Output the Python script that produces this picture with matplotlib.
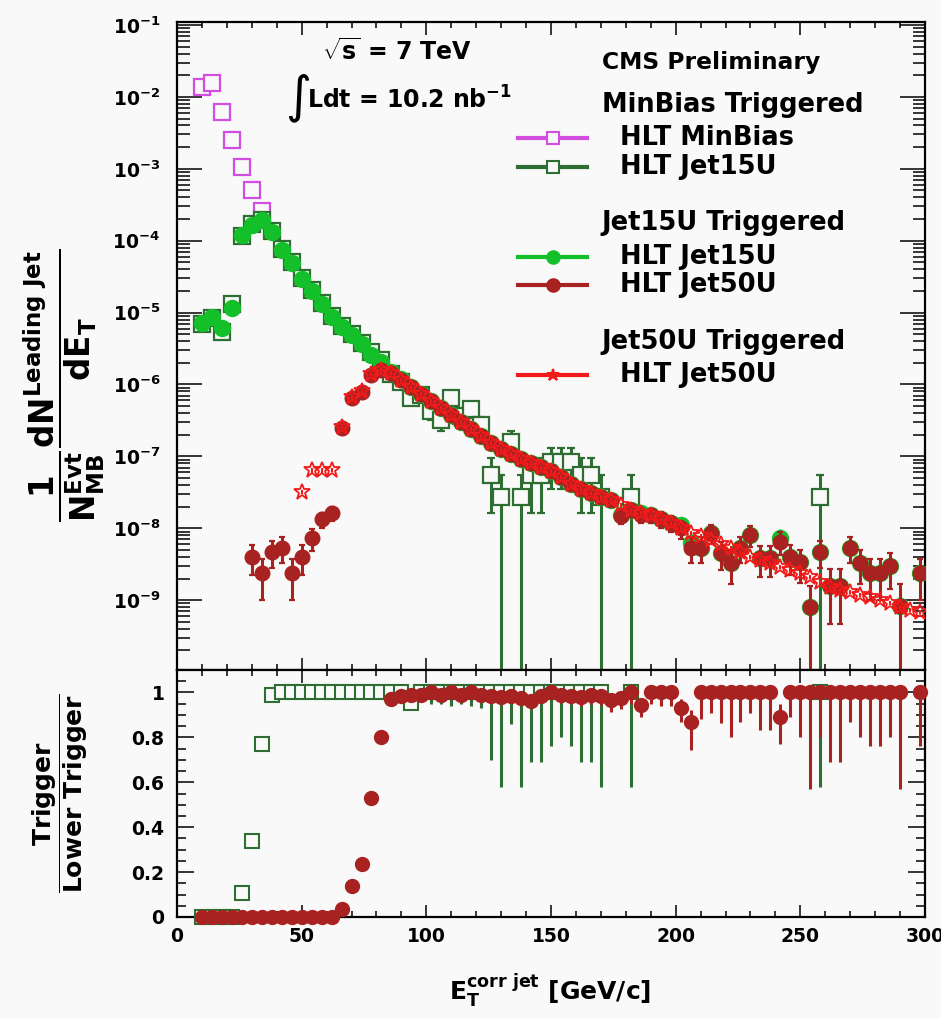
import numpy as np
import matplotlib
matplotlib.use("Agg")
import matplotlib.pyplot as plt
from matplotlib.ticker import LogLocator, MultipleLocator, FuncFormatter, NullFormatter
from matplotlib.lines import Line2D

plt.rcParams['font.family'] = 'DejaVu Sans'
plt.rcParams['font.weight'] = 'bold'
plt.rcParams['mathtext.fontset'] = 'custom'
plt.rcParams['mathtext.rm'] = 'DejaVu Sans:bold'
plt.rcParams['mathtext.it'] = 'DejaVu Sans:bold'
plt.rcParams['mathtext.bf'] = 'DejaVu Sans:bold'
plt.rcParams['mathtext.default'] = 'rm'

# ---------------- data (leading jet E_T, 4 GeV bins) ----------------
# MinBias triggered, HLT MinBias
mb_et = [10, 14, 18, 22, 26, 30, 34]
mb_val = [1.37e-2, 1.56e-2, 6.2e-3, 2.5e-3, 1.06e-3, 5.1e-4, 2.6e-4]

# MinBias triggered, HLT Jet15U
mbj15_et = [10, 14, 18, 22, 26, 30, 34, 38, 42, 46, 50, 54, 58, 62, 66, 70, 74, 78, 82,
            86, 90, 94, 98, 102, 106, 110, 114, 118, 122, 126, 130, 134, 138, 142, 146,
            150, 154, 158, 162, 166, 170, 182, 258]
mbj15_val = [7.0e-6, 8.5e-6, 5.3e-6, 1.3e-5, 1.15e-4, 1.7e-4, 1.95e-4, 1.35e-4, 7.6e-5,
             5.0e-5, 3.0e-5, 2.05e-5, 1.35e-5, 9.0e-6, 6.5e-6, 5.1e-6, 3.8e-6, 2.8e-6, 2.2e-6,
             1.4e-6, 1.1e-6, 6.5e-7, 7.2e-7, 4.3e-7, 3.2e-7, 6.5e-7, 3.6e-7, 4.6e-7, 2.7e-7,
             5.5e-8, 2.75e-8, 1.6e-7, 2.75e-8, 5.5e-8, 5.5e-8, 8.3e-8, 8.3e-8, 8.3e-8,
             5.5e-8, 5.5e-8, 2.75e-8, 2.75e-8, 2.75e-8]
mb_unit = 2.75e-8      # weight of one event in the MinBias sample

# Jet15U triggered, HLT Jet15U
j15_et = [10, 14, 18, 22, 26, 30, 34, 38, 42, 46, 50, 54, 58, 62, 66, 70, 74, 78, 82,
          86, 90, 94, 98, 102, 106, 110, 114, 118, 122, 126, 130, 134, 138, 142, 146,
          150, 154, 158, 162, 166, 170, 174, 178, 182, 186, 190, 194, 198, 202, 206,
          210, 214, 218, 222, 226, 230, 234, 238, 242, 246, 250, 254, 258, 262, 266,
          270, 274, 278, 282, 286, 290, 298]
j15_val = [7.2e-6, 8.7e-6, 6.1e-6, 1.15e-5, 1.2e-4, 1.66e-4, 1.95e-4, 1.32e-4, 7.4e-5,
           4.9e-5, 2.9e-5, 2.0e-5, 1.3e-5, 8.7e-6, 6.3e-6, 4.9e-6, 3.6e-6, 2.6e-6, 2.05e-6,
           1.5e-6, 1.18e-6, 9.3e-7, 7.4e-7, 5.9e-7, 4.7e-7, 3.77e-7, 3.0e-7, 2.4e-7, 1.92e-7,
           1.53e-7, 1.27e-7, 1.08e-7, 9.2e-8, 8.1e-8, 7.1e-8, 6.3e-8, 5.2e-8, 4.1e-8,
           3.5e-8, 3.1e-8, 2.7e-8, 2.5e-8, 1.54e-8, 1.8e-8, 1.63e-8, 1.53e-8, 1.35e-8,
           1.19e-8, 1.1e-8, 6.2e-9, 5.4e-9, 8.6e-9, 4.5e-9, 3.3e-9, 5.4e-9, 8.1e-9,
           3.9e-9, 3.9e-9, 7.3e-9, 4.0e-9, 3.4e-9, 8.0e-10, 4.7e-9, 1.6e-9, 1.6e-9,
           5.4e-9, 3.3e-9, 2.4e-9, 2.4e-9, 3.0e-9, 8.4e-10, 2.4e-9]
jet_unit = 8e-10       # weight of one event in the Jet15U sample

# Jet15U triggered, HLT Jet50U
j15j50_et = [30, 34, 38, 42, 46, 50, 54, 58, 62, 66, 70, 74, 78, 82,
             86, 90, 94, 98, 102, 106, 110, 114, 118, 122, 126, 130, 134, 138, 142, 146,
             150, 154, 158, 162, 166, 170, 174, 178, 182, 186, 190, 194, 198, 202, 206,
             210, 214, 218, 222, 226, 230, 234, 238, 242, 246, 250, 254, 258, 262, 266,
             270, 274, 278, 282, 286, 290, 298]
j15j50_val = [4.0e-9, 2.4e-9, 4.7e-9, 5.4e-9, 2.4e-9, 4.0e-9, 7.3e-9, 1.33e-8, 1.63e-8,
              2.5e-7, 6.5e-7, 7.9e-7, 1.36e-6, 1.59e-6,
              1.45e-6, 1.16e-6, 9.2e-7, 7.4e-7, 5.9e-7, 4.7e-7, 3.77e-7, 3.0e-7, 2.4e-7,
              1.92e-7, 1.53e-7, 1.27e-7, 1.08e-7, 9.2e-8, 8.1e-8, 7.1e-8, 6.3e-8, 5.2e-8,
              4.1e-8, 3.5e-8, 3.1e-8, 2.7e-8, 2.5e-8, 1.5e-8, 1.8e-8, 1.55e-8, 1.53e-8,
              1.35e-8, 1.19e-8, 1.0e-8, 5.4e-9, 5.4e-9, 8.6e-9, 4.5e-9, 3.3e-9, 5.4e-9,
              8.1e-9, 3.9e-9, 3.9e-9, 6.5e-9, 4.0e-9, 3.4e-9, 8.0e-10, 4.7e-9, 1.6e-9,
              1.6e-9, 5.4e-9, 3.3e-9, 2.4e-9, 2.4e-9, 3.0e-9, 8.4e-10, 2.4e-9]

# Jet50U triggered, HLT Jet50U
j50_et = [50, 54, 58, 62, 66, 70, 74, 78, 82, 86, 90, 94, 98, 102, 106, 110, 114, 118,
          122, 126, 130, 134, 138, 142, 146, 150, 154, 158, 162, 166, 170, 174, 178, 182,
          186, 190, 194, 198, 202, 206, 210, 214, 218, 222, 226, 230, 234, 238, 242, 246,
          250, 254, 258, 262, 266, 270, 274, 278, 282, 286, 290, 294, 298]
j50_val = [3.2e-8, 6.4e-8, 6.4e-8, 6.5e-8, 2.6e-7, 6.6e-7, 8.0e-7, 1.4e-6, 1.6e-6,
           1.45e-6, 1.16e-6, 9.2e-7, 7.4e-7, 5.9e-7, 4.7e-7, 3.77e-7, 3.0e-7, 2.4e-7,
           1.92e-7, 1.53e-7, 1.27e-7, 1.08e-7, 9.2e-8, 8.1e-8, 7.1e-8, 6.3e-8, 5.2e-8,
           4.1e-8, 3.5e-8, 3.1e-8, 2.7e-8, 2.5e-8, 2.1e-8, 1.8e-8, 1.63e-8, 1.53e-8,
           1.35e-8, 1.19e-8, 1.01e-8, 8.6e-9, 7.8e-9, 6.9e-9, 6.05e-9, 5.3e-9, 4.7e-9,
           4.0e-9, 3.6e-9, 3.3e-9, 2.9e-9, 2.6e-9, 2.4e-9, 2.1e-9, 1.8e-9, 1.53e-9,
           1.39e-9, 1.3e-9, 1.18e-9, 1.11e-9, 1.0e-9, 9.1e-10, 8.0e-10, 7.3e-10, 6.9e-10]
j50_relerr = 0.07

# ratio Jet15U / MinBias
r15_et = [10, 14, 18, 22, 26, 30, 34, 38, 42, 46, 50, 54, 58, 62, 66, 70, 74, 78, 82,
          86, 90, 94, 98, 102, 106, 110, 114, 118, 122, 126, 130, 134, 138, 142, 146,
          150, 154, 158, 162, 166, 170, 182, 258]
r15_val = [0, 0, 0, 0, 0.107, 0.34, 0.77, 0.99, 1, 1, 1, 1, 1, 1, 1, 1, 1, 1, 1,
           1, 1, 0.955, 1, 1, 1, 1, 1, 1, 1, 1, 1, 1, 1, 1, 1,
           1, 1, 1, 1, 1, 1, 1, 1]
r15_lo = [0, 0, 0, 0, 0.012, 0.02, 0.03, 0.01, 0.003, 0.003, 0.003, 0.004, 0.004, 0.005,
          0.006, 0.008, 0.01, 0.01, 0.012, 0.015, 0.02, 0.02, 0.04, 0.05, 0.05, 0.06, 0.05,
          0.06, 0.07, 0.30, 0.42, 0.14, 0.42, 0.31, 0.31, 0.24, 0.20, 0.24, 0.31, 0.31,
          0.42, 0.42, 0.42]
r15_hi = [0, 0, 0, 0, 0.012, 0.02, 0.03, 0.005] + [0] * 13 + [0.02] + [0] * 21

# ratio Jet50U / Jet15U
r50_et = [10, 14, 18, 22, 26, 30, 34, 38, 42, 46, 50, 54, 58, 62, 66, 70, 74, 78, 82,
          86, 90, 94, 98, 102, 106, 110, 114, 118, 122, 126, 130, 134, 138, 142, 146,
          150, 154, 158, 162, 166, 170, 174, 178, 182, 186, 190, 194, 198, 202, 206,
          210, 214, 218, 222, 226, 230, 234, 238, 242, 246, 250, 254, 258, 262, 266,
          270, 274, 278, 282, 286, 290, 298]
r50_val = [0] * 14 + [0.036, 0.14, 0.235, 0.53, 0.80, 0.97, 0.985,
           0.99, 0.99, 1.0, 0.99, 1.0, 0.99, 1.0, 0.99, 0.985, 0.98, 0.985, 0.975, 0.96,
           0.985, 1.0, 0.99, 0.985, 0.98, 0.99, 0.985, 0.965, 0.975, 1.0,
           0.946, 1.0, 1.0, 1.0, 0.93, 0.87, 1, 1, 1, 1, 1, 1, 1, 1, 0.89,
           1, 1, 1, 1, 1, 1, 1, 1, 1, 1, 1, 1, 1]
r50_lo = [0] * 14 + [0.01, 0.015, 0.02, 0.02, 0.02, 0.01, 0.01,
          0.01, 0.01, 0.01, 0.015, 0.01, 0.015, 0.015, 0.02, 0.02, 0.02, 0.025, 0.025,
          0.03, 0.03, 0.03, 0.035, 0.035, 0.04, 0.04, 0.04, 0.05, 0.05, 0.05,
          0.055, 0.05, 0.06, 0.06, 0.06, 0.125, 0.12, 0.09, 0.134, 0.20, 0.13, 0.09,
          0.165, 0.165, 0.12, 0.11, 0.20, 0.43, 0.20, 0.31, 0.31, 0.13, 0.20, 0.24,
          0.24, 0.20, 0.43, 0.24]
r50_hi = [0] * 14 + [0.01, 0.015, 0.02, 0.02, 0.02, 0.01, 0.01,
          0.01, 0.01, 0, 0.01, 0, 0.01, 0, 0.01, 0.01, 0.015, 0.01, 0.02, 0.02,
          0.01, 0, 0.01, 0.01, 0.015, 0.01, 0.01, 0.02, 0.02, 0,
          0.03, 0, 0, 0, 0.04, 0.05, 0, 0, 0, 0, 0, 0, 0, 0, 0.06,
          0, 0, 0, 0, 0, 0, 0, 0, 0, 0, 0, 0, 0]

# ---------------- style ----------------
bg = '#f9f9f9'
c_mag = '#d14ee0'
c_dg = '#2f6e33'
c_g = '#14c02a'
c_dr = '#a82222'
c_r = '#f51a1a'

fig = plt.figure(figsize=(9.41, 10.18), dpi=100, facecolor=bg)
ax1 = fig.add_axes([177 / 941, 1 - 670 / 1018, 748 / 941, 648 / 1018], facecolor=bg)
ax2 = fig.add_axes([177 / 941, 1 - 917 / 1018, 748 / 941, 247 / 1018], facecolor=bg)


def poisson(vals, unit):
    v = np.array(vals)
    return np.sqrt(v * unit)


# ---------------- top panel ----------------
ax1.set_yscale('log', nonpositive='clip')
ax1.errorbar(mb_et, mb_val, yerr=poisson(mb_val, mb_unit), fmt='s', ms=11, mfc=bg,
             mec=c_mag, mew=1.6, ecolor=c_mag, elinewidth=2, capsize=0, zorder=3)
ax1.errorbar(mbj15_et, mbj15_val, yerr=poisson(mbj15_val, mb_unit), fmt='s', ms=11,
             mfc=bg, mec=c_dg, mew=1.6, ecolor=c_dg, elinewidth=2.2, capsize=3,
             capthick=1.6, zorder=4)
ax1.errorbar(j15_et, j15_val, yerr=poisson(j15_val, jet_unit), fmt='o', ms=11.5,
             mfc=c_g, mec=c_g, ecolor=c_g, elinewidth=2, capsize=0, zorder=5)
ax1.errorbar(j15j50_et, j15j50_val, yerr=poisson(j15j50_val, jet_unit), fmt='o', ms=10.5,
             mfc=c_dr, mec=c_dr, ecolor=c_dr, elinewidth=2.2, capsize=2.5, capthick=1.6,
             zorder=6)
ax1.errorbar(j50_et, j50_val, yerr=np.array(j50_val) * j50_relerr, fmt='*', ms=12,
             mfc='none', mec=c_r, mew=1.3, ecolor=c_r, elinewidth=1.5, capsize=0, zorder=7)

ax1.set_xlim(0, 300)
ax1.set_ylim(1.07e-10, 0.11)
ax1.yaxis.set_major_locator(LogLocator(base=10, numticks=20))
ax1.yaxis.set_minor_locator(LogLocator(base=10, subs=np.arange(2, 10), numticks=20))
ax1.yaxis.set_major_formatter(FuncFormatter(lambda v, p: r'$10^{%d}$' % round(np.log10(v))))
ax1.yaxis.set_minor_formatter(NullFormatter())
ax1.xaxis.set_major_locator(MultipleLocator(50))
ax1.xaxis.set_minor_locator(MultipleLocator(10))
ax1.xaxis.set_major_formatter(NullFormatter())
ax1.tick_params(which='both', direction='in', top=True, right=True, width=1.1, colors='black')
ax1.tick_params(axis='y', which='major', length=18, labelsize=13.5, pad=12)
ax1.tick_params(axis='y', which='minor', length=9)
ax1.tick_params(axis='x', which='major', length=9)
ax1.tick_params(axis='x', which='minor', length=4.5)

# ---------------- ratio panel ----------------
ax2.errorbar(r15_et, r15_val, yerr=[r15_lo, r15_hi], fmt='s', ms=10.5, mfc=bg, mec=c_dg,
             mew=1.5, ecolor=c_dg, elinewidth=2.2, capsize=0, zorder=3, clip_on=False)
ax2.errorbar(r50_et, r50_val, yerr=[r50_lo, r50_hi], fmt='o', ms=10, mfc=c_dr, mec=c_dr,
             ecolor=c_dr, elinewidth=2.2, capsize=0, zorder=4, clip_on=False)
ax2.set_xlim(0, 300)
ax2.set_ylim(0, 1.1)
ax2.yaxis.set_major_locator(MultipleLocator(0.2))
ax2.yaxis.set_minor_locator(MultipleLocator(0.05))
ax2.yaxis.set_major_formatter(FuncFormatter(lambda v, p: '%g' % round(v, 1)))
ax2.xaxis.set_major_locator(MultipleLocator(50))
ax2.xaxis.set_minor_locator(MultipleLocator(10))
ax2.tick_params(which='both', direction='in', top=True, right=True, width=1.1)
ax2.tick_params(axis='y', which='major', length=12, labelsize=13.5, pad=9)
ax2.tick_params(axis='y', which='minor', length=6.5)
ax2.tick_params(axis='x', which='major', length=9, labelsize=13.5, pad=7)
ax2.tick_params(axis='x', which='minor', length=4.5)

for ax in (ax1, ax2):
    for s in ax.spines.values():
        s.set_linewidth(1.6)

# ---------------- axis titles ----------------
fig.text(64 / 941, 1 - 385 / 1018,
         r'$\dfrac{1}{N_{MB}^{Evt}}\dfrac{dN^{Leading\ Jet}}{dE_{T}}$',
         rotation=90, ha='center', va='center', fontsize=23.5)
fig.text(60 / 941, 1 - 793 / 1018, r'$\dfrac{Trigger}{Lower\ Trigger}$',
         rotation=90, ha='center', va='center', fontsize=18)
fig.text(550 / 941, 1 - 990 / 1018, r'E$_{T}^{corr\ jet}$ [GeV/c]',
         ha='center', va='center', fontsize=18)

# ---------------- annotations ----------------
ax1.text(0.194, 0.954, r'$\sqrt{s}$ = 7 TeV', transform=ax1.transAxes,
         ha='left', va='center', fontsize=17)
ax1.text(0.145, 0.884, '\u222b', transform=ax1.transAxes, ha='left', va='center',
         fontsize=36, fontweight='normal')
ax1.text(0.174, 0.880, r'Ldt = 10.2 nb$^{-1}$', transform=ax1.transAxes,
         ha='left', va='center', fontsize=17)
ax1.text(0.568, 0.938, 'CMS Preliminary', transform=ax1.transAxes,
         ha='left', va='center', fontsize=16.8)

legend_rows = [
    (0.872, 'MinBias Triggered', None),
    (0.821, '  HLT MinBias', dict(marker='s', mfc=bg, mec=c_mag, color=c_mag)),
    (0.776, '  HLT Jet15U', dict(marker='s', mfc=bg, mec=c_dg, color=c_dg)),
    (0.690, 'Jet15U Triggered', None),
    (0.637, '  HLT Jet15U', dict(marker='o', mfc=c_g, mec=c_g, color=c_g)),
    (0.594, '  HLT Jet50U', dict(marker='o', mfc=c_dr, mec=c_dr, color=c_dr)),
    (0.506, 'Jet50U Triggered', None),
    (0.455, '  HLT Jet50U', dict(marker='*', mfc='none', mec=c_r, color=c_r)),
]
for y, label, st in legend_rows:
    ax1.text(0.568, y, label, transform=ax1.transAxes, ha='left', va='center',
             fontsize=18.5)
    if st is not None:
        ax1.add_line(Line2D([0.456, 0.548], [y, y], transform=ax1.transAxes,
                            color=st['color'], lw=3, zorder=8))
        ax1.add_line(Line2D([0.503], [y], transform=ax1.transAxes, lw=0,
                            marker=st['marker'], ms=9, mfc=st['mfc'], mec=st['mec'],
                            mew=1.5, zorder=9))

fig.savefig('out.png', dpi=100, facecolor=bg)
